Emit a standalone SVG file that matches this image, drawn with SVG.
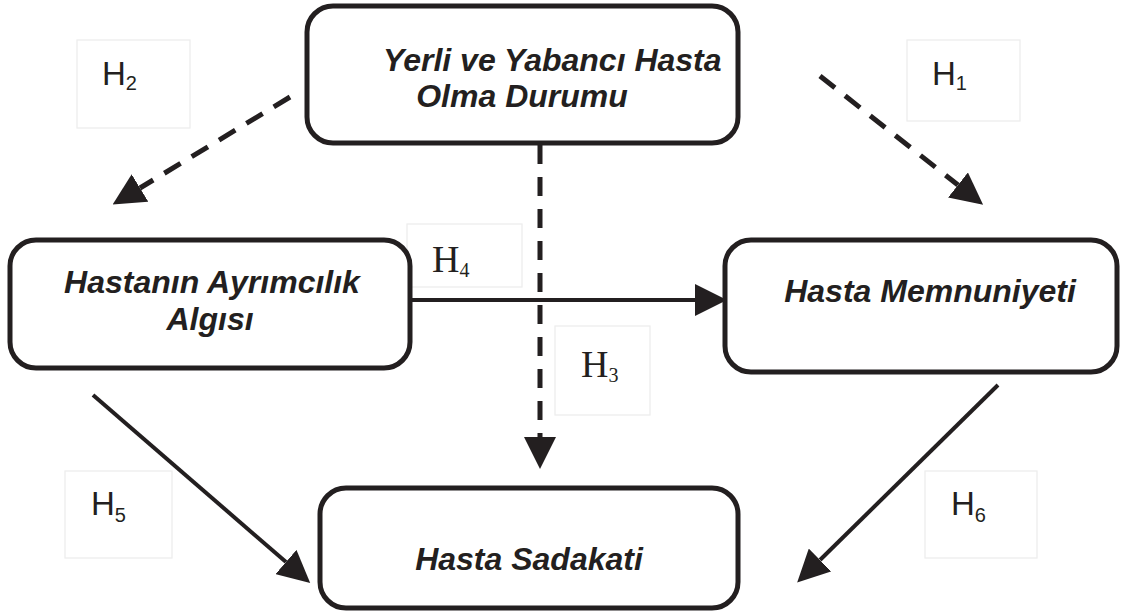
<svg xmlns="http://www.w3.org/2000/svg" width="1126" height="615" viewBox="0 0 1126 615">
<defs>
<style>
.box{fill:#fff;stroke:#231f20;stroke-width:5}
.lbl{fill:#fff;stroke:#ececec;stroke-width:1.2}
.t{font-family:"Liberation Sans",Arial,sans-serif;font-weight:bold;font-style:italic;font-size:32px;fill:#231f20;text-anchor:middle}
.ts{text-anchor:start}
.hs{font-family:"Liberation Sans",Arial,sans-serif;font-size:33px;fill:#231f20}
.hr{font-family:"Liberation Serif","Times New Roman",serif;font-size:38px;fill:#231f20}
.sub{font-size:20px}
.dash{fill:none;stroke:#231f20;stroke-width:5;stroke-dasharray:19 13}
.solid{fill:none;stroke:#231f20;stroke-width:4}
</style>
<marker id="ah" viewBox="0 0 32 32" refX="0" refY="16" markerWidth="32" markerHeight="32" markerUnits="userSpaceOnUse" orient="auto">
<path d="M0,0 L32,16 L0,32 z" fill="#231f20"/>
</marker>
</defs>
<rect width="1126" height="615" fill="#fff"/>
<g id="labels">
<g id="lH2"><rect class="lbl" x="77" y="40" width="113" height="88"/><text class="hs" x="102" y="85">H<tspan class="sub" dy="5">2</tspan></text></g>
<g id="lH1"><rect class="lbl" x="907" y="40" width="113" height="81"/><text class="hs" x="932" y="85">H<tspan class="sub" dy="5">1</tspan></text></g>
<g id="lH4"><rect class="lbl" x="407" y="224" width="115" height="63"/><text class="hr" x="432" y="272">H<tspan class="sub" font-size="23" dy="5">4</tspan></text></g>
<g id="lH3"><rect class="lbl" x="555" y="326" width="95" height="89"/><text class="hr" x="581" y="377">H<tspan class="sub" font-size="23" dy="5">3</tspan></text></g>
<g id="lH5"><rect class="lbl" x="65" y="471" width="107" height="87"/><text class="hs" x="91" y="515">H<tspan class="sub" dy="7">5</tspan></text></g>
<g id="lH6"><rect class="lbl" x="925" y="471" width="112" height="87"/><text class="hs" x="951" y="515">H<tspan class="sub" dy="7">6</tspan></text></g>
</g>
<g id="connectors">
<path class="dash" d="M290,97 L140,188" marker-end="url(#ah)"/>
<path class="dash" d="M820,76 L958,185" marker-end="url(#ah)"/>
<path class="dash" d="M540,145 L540,437" marker-end="url(#ah)"/>
<path class="solid" d="M410,300 L695,300" marker-end="url(#ah)"/>
<path class="solid" d="M93,395 L286,562" marker-end="url(#ah)"/>
<path class="solid" d="M998,385 L820,560" marker-end="url(#ah)"/>
</g>
<g id="n-origin"><rect class="box" x="307" y="6" width="431" height="137" rx="26"/><text class="t ts" x="383" y="71">Yerli ve Yabancı Hasta</text><text class="t" x="522" y="107">Olma Durumu</text></g>
<g id="n-ayrimcilik"><rect class="box" x="10" y="240" width="400" height="128" rx="26"/><text class="t" x="212" y="293">Hastanın Ayrımcılık</text><text class="t" x="210" y="330">Algısı</text></g>
<g id="n-memnuniyet"><rect class="box" x="725" y="240" width="392" height="132" rx="26"/><text class="t" x="930" y="302">Hasta Memnuniyeti</text></g>
<g id="n-sadakat"><rect class="box" x="320" y="488" width="418" height="120" rx="26"/><text class="t" x="529" y="570">Hasta Sadakati</text></g>
</svg>
